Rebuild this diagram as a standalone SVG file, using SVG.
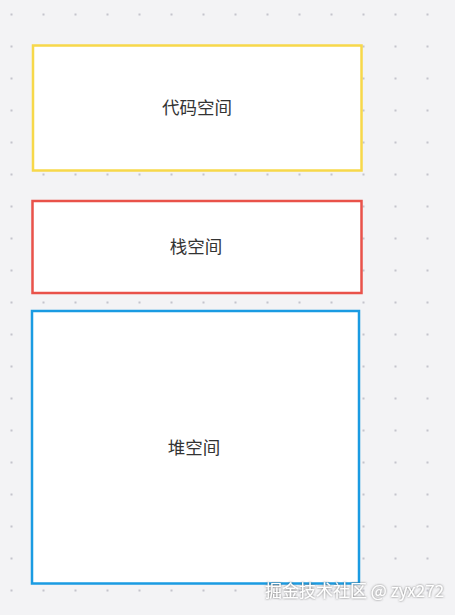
<svg xmlns="http://www.w3.org/2000/svg" width="455" height="615" viewBox="0 0 455 615">
<defs>
<pattern id="dots" x="0" y="0" width="32" height="32" patternUnits="userSpaceOnUse">
<rect x="10.5" y="13.5" width="2" height="2" fill="#c4c4cc"/>
</pattern>
<filter id="sh" x="-10%" y="-30%" width="120%" height="160%">
<feDropShadow dx="0" dy="0" stdDeviation="1" flood-color="#555" flood-opacity="0.9"/>
</filter>
</defs>
<style>
.box{fill:#ffffff;stroke-width:2.5}
.lbl{font-family:"Noto Sans CJK SC","Noto Sans",sans-serif;font-size:17.5px;fill:#333333;text-anchor:middle;dominant-baseline:central}
.wm{font-family:"Noto Sans CJK SC","Liberation Sans",sans-serif;font-size:17px;fill:#ffffff}
</style>
<rect width="455" height="615" fill="#f3f3f5"/>
<rect width="455" height="615" fill="url(#dots)"/>
<g id="connectors"/>
<g id="code">
<rect class="box" x="33" y="45.5" width="328.5" height="125" stroke="#f7d84a"/>
<text class="lbl" x="197" y="106.5">代码空间</text>
</g>
<g id="stack">
<rect class="box" x="32.5" y="201" width="329" height="92" stroke="#e9524a"/>
<text class="lbl" x="196" y="245">栈空间</text>
</g>
<g id="heap">
<rect class="box" x="32" y="311" width="327" height="272.5" stroke="#1a9be2"/>
<text class="lbl" x="194" y="446">堆空间</text>
</g>
<text class="wm" x="265" y="597" filter="url(#sh)">掘金技术社区 @ zyx272</text>
</svg>
